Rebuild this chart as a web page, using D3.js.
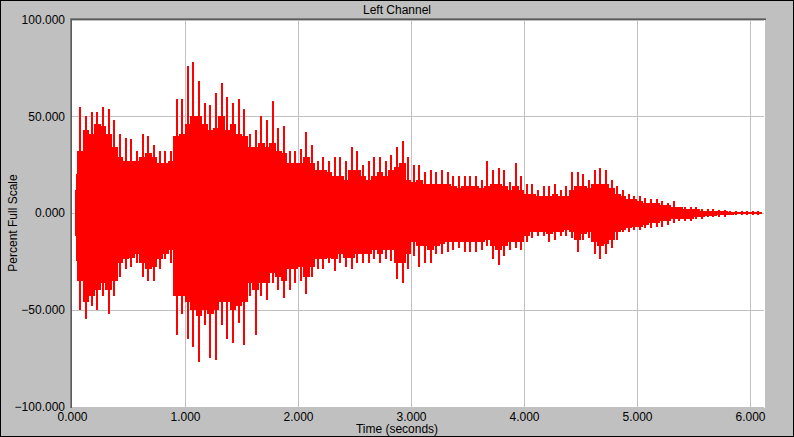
<!DOCTYPE html>
<html>
<head>
<meta charset="utf-8">
<script src="https://cdn.jsdelivr.net/npm/d3@7/dist/d3.min.js"></script>
<style>
  html, body { margin: 0; padding: 0; background: #c0c0c0; }
  svg { display: block; }
  text { font-family: "Liberation Sans", Arial, sans-serif; font-size: 12px; fill: #000; }
</style>
</head>
<body>
<svg id="chart" width="794" height="437"></svg>
<script>
// ---- data ----
const title = "Left Channel";
const xLabel = "Time (seconds)";
const yLabel = "Percent Full Scale";
const xTicks = [0, 1, 2, 3, 4, 5, 6];
const yTicks = [100, 50, 0, -50, -100];
const binWidth = 0.05;      // seconds per envelope bin
const waveStart = 0.033;    // seconds where the sound starts

// highest spike per 0.05 s bin
const peakHi = [20,55,50,52,52,55,54,48,41,39,
  38,32,41,40,35,32,32,32,59,59,
  76,78,68,57,56,62,67,60,57,59,
  54,41,43,50,48,58,44,45,32,32,
  33,42,35,27,29,27,29,29,27,34,
  32,25,27,29,29,27,30,34,37,29,
  25,25,21,22,21,22,21,19,19,19,
  19,19,17,27,22,23,22,16,26,19,
  15,15,12,14,14,15,12,14,21,21,
  20,17,22,23,22,17,14,12,10,9,
  9,8,7,7,6,5,6,3,3,3,
  3,2,2,2,1.5,1.5,1,0.8,0.8,0.8,0.8,0.8];
// top of the dense body per bin
const bodyHi = [12,32,43,41,46,45,41,34,29,27,
  27,27,29,31,29,26,26,27,40,41,
  46,50,50,46,43,44,50,43,46,41,
  40,34,34,36,34,36,32,31,26,26,
  26,29,26,22,22,21,19,19,17,22,
  22,19,17,19,21,19,22,24,26,17,
  16,17,15,15,15,15,15,14,13,14,
  14,14,13,14,15,15,14,12,14,12,
  10,10,9,9,9,10,9,9,12,14,
  14,13,15,15,15,13,10,9,7,7,
  6,5,5,5,4,4,3,3,2,2,
  2,1,1,1,1,1,0.7,0.5,0.5,0.5,0.5,0.5];
// lowest spike per bin
const peakLo = [-25,-50,-55,-48,-50,-43,-52,-43,-33,-29,
  -28,-26,-33,-35,-35,-29,-24,-26,-63,-52,
  -65,-69,-77,-58,-75,-76,-58,-65,-67,-57,
  -68,-43,-63,-43,-45,-36,-40,-44,-40,-36,
  -35,-42,-33,-29,-29,-26,-30,-26,-28,-29,
  -26,-26,-26,-24,-26,-24,-25,-34,-36,-29,
  -22,-28,-26,-26,-21,-21,-20,-19,-18,-20,
  -20,-20,-19,-17,-24,-27,-22,-19,-18,-19,
  -15,-13,-12,-12,-15,-14,-12,-12,-13,-20,
  -14,-13,-21,-24,-21,-18,-14,-10,-10,-9,
  -9,-8,-8,-7,-7,-6,-5,-4,-4,-4,
  -3,-3,-2,-2,-2,-2,-1,-0.8,-0.8,-0.8,-0.8,-0.8];
// bottom of the dense body per bin
const bodyLo = [-12,-35,-46,-43,-40,-36,-40,-35,-26,-24,
  -23,-21,-26,-29,-28,-24,-21,-19,-43,-43,
  -46,-50,-53,-50,-52,-50,-46,-46,-50,-48,
  -46,-36,-40,-36,-36,-31,-33,-35,-29,-29,
  -28,-33,-28,-24,-24,-23,-24,-21,-23,-23,
  -21,-21,-21,-19,-21,-19,-19,-26,-26,-21,
  -15,-17,-17,-19,-17,-16,-15,-15,-15,-15,
  -15,-15,-15,-14,-17,-19,-17,-15,-15,-15,
  -12,-10,-10,-10,-11,-10,-10,-9,-10,-14,
  -11,-10,-15,-17,-16,-14,-10,-9,-8,-7,
  -7,-6,-5,-5,-4,-4,-3,-3,-3,-3,
  -2,-2,-1.5,-1.5,-1,-1,-0.8,-0.6,-0.6,-0.6,-0.6,-0.6];

const bins = peakHi.map((p, i) => ({
  t0: Math.max(i * binWidth, waveStart),
  t1: (i + 1) * binWidth,
  pHi: p, bHi: bodyHi[i], pLo: peakLo[i], bLo: bodyLo[i]
}));

// ---- layout ----
const svg = d3.select("#chart");
const W = 794, H = 437;
const plot = { left: 72, top: 19, right: 765, bottom: 408 };

const x = d3.scaleLinear().domain([0, 6]).range([72, 750]);
const y = d3.scaleLinear().domain([-100, 100]).range([406.5, 19.5]);

// background + outer black frame
svg.append("rect").attr("x", 0.5).attr("y", 0.5).attr("width", W - 1).attr("height", H - 1)
  .attr("fill", "#c0c0c0").attr("stroke", "#000").attr("stroke-width", 1);

// plot area
svg.append("rect").attr("x", plot.left).attr("y", plot.top)
  .attr("width", plot.right - plot.left).attr("height", plot.bottom - plot.top)
  .attr("fill", "#fff");

// gridlines
const grid = svg.append("g").attr("stroke", "#c0c0c0").attr("stroke-width", 1);
xTicks.filter(d => d > 0).forEach(d => {
  const gx = Math.round(x(d)) + 0.5;
  grid.append("line").attr("x1", gx).attr("x2", gx).attr("y1", plot.top).attr("y2", plot.bottom - 1);
});
yTicks.forEach(d => {
  const gy = Math.round(y(d)) + 0.5;
  grid.append("line").attr("x1", plot.left).attr("x2", plot.right - 1).attr("y1", gy).attr("y2", gy);
});

// waveform
const wave = svg.append("g").attr("fill", "#ff0000").attr("stroke", "none")
  .attr("shape-rendering", "crispEdges");
wave.selectAll("rect.body").data(bins).join("rect")
  .attr("class", "body")
  .attr("x", d => Math.floor(x(d.t0)))
  .attr("width", d => Math.ceil(x(d.t1)) - Math.floor(x(d.t0)))
  .attr("y", d => Math.round(y(d.bHi)))
  .attr("height", d => Math.max(2, Math.round(y(d.bLo)) - Math.round(y(d.bHi))));
wave.selectAll("rect.peak").data(bins).join("rect")
  .attr("class", "peak")
  .attr("x", d => Math.round((x(d.t0) + x(d.t1)) / 2) - 1)
  .attr("width", 2)
  .attr("y", d => Math.round(y(d.pHi)))
  .attr("height", d => Math.max(2, Math.round(y(d.pLo)) - Math.round(y(d.pHi))));

// sunken border (top / left)
svg.append("line").attr("x1", 70).attr("x2", 766).attr("y1", 18.5).attr("y2", 18.5).attr("stroke", "#808080");
svg.append("line").attr("x1", 71).attr("x2", 766).attr("y1", 19.5).attr("y2", 19.5).attr("stroke", "#5a5a5a");
svg.append("line").attr("x1", 70.5).attr("x2", 70.5).attr("y1", 18).attr("y2", 408).attr("stroke", "#808080");
svg.append("line").attr("x1", 71.5).attr("x2", 71.5).attr("y1", 19).attr("y2", 408).attr("stroke", "#5a5a5a");

// axes
const yAxis = d3.axisLeft(y).tickValues(yTicks).tickFormat(d3.format(".3f")).tickSize(0).tickPadding(5);
const gy = svg.append("g").attr("transform", "translate(70,0)").call(yAxis);
gy.select(".domain").remove();
gy.selectAll("text").style("font-family", '"Liberation Sans", Arial, sans-serif').style("font-size", "12px").attr("fill", "#000");

const xAxis = d3.axisBottom(x).tickValues(xTicks).tickFormat(d3.format(".3f")).tickSize(0).tickPadding(5);
const gx = svg.append("g").attr("transform", "translate(0,407)").call(xAxis);
gx.select(".domain").remove();
gx.selectAll("text").style("font-family", '"Liberation Sans", Arial, sans-serif').style("font-size", "12px").attr("fill", "#000");

// titles
svg.append("text").attr("x", 397).attr("y", 14).attr("text-anchor", "middle").text(title);
svg.append("text").attr("x", 397).attr("y", 433).attr("text-anchor", "middle").text(xLabel);
svg.append("text").attr("transform", "translate(16.5,223) rotate(-90)").attr("text-anchor", "middle").text(yLabel);
</script>
</body>
</html>
